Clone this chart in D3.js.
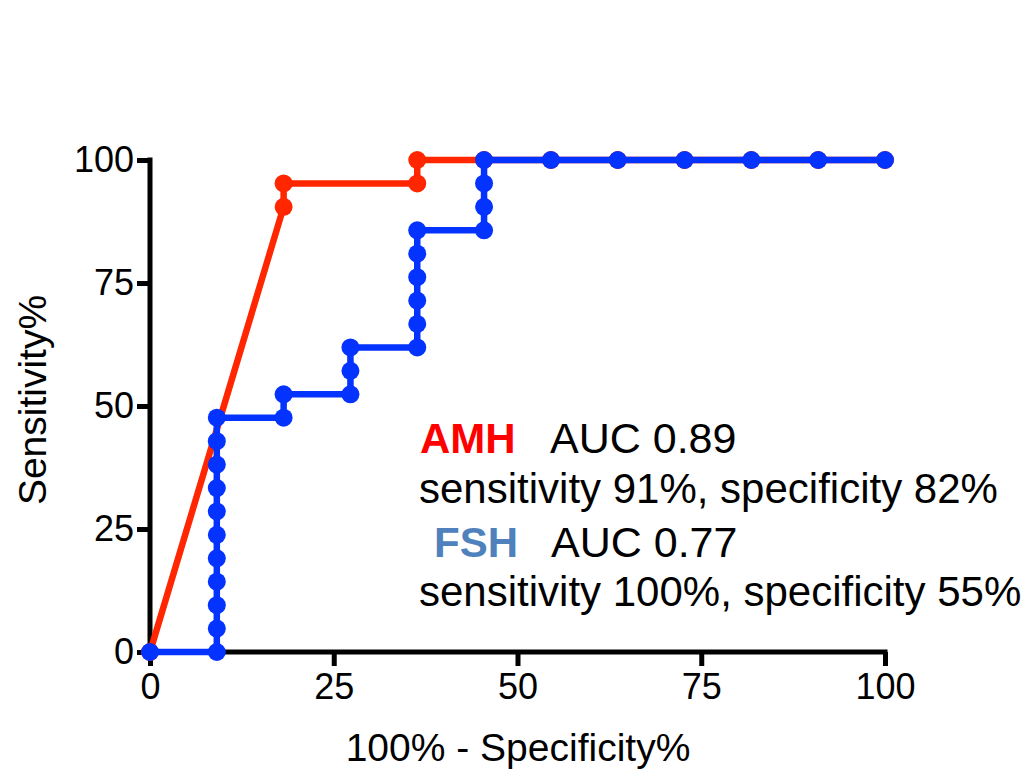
<!DOCTYPE html>
<html>
<head>
<meta charset="utf-8">
<script src="https://cdn.jsdelivr.net/npm/d3@7"></script>
<style>
  html, body { margin: 0; padding: 0; background: #fff; }
  text { font-family: "Liberation Sans", Arial, sans-serif; }
</style>
</head>
<body>
<svg id="chart" width="1032" height="772"></svg>
<script>
// ---- data ----
const amhX = [0, 18.18, 18.18, 36.36, 36.36, 45.45, 54.55, 63.64, 72.73, 81.82, 90.91, 100];
const amhY = [0, 90.48, 95.24, 95.24, 100, 100, 100, 100, 100, 100, 100, 100];

const fshX = [0, 9.09, 9.09, 9.09, 9.09, 9.09, 9.09, 9.09, 9.09, 9.09, 9.09, 9.09,
              18.18, 18.18, 27.27, 27.27, 27.27,
              36.36, 36.36, 36.36, 36.36, 36.36, 36.36,
              45.45, 45.45, 45.45, 45.45,
              54.55, 63.64, 72.73, 81.82, 90.91, 100];
const fshY = [0, 0, 4.76, 9.52, 14.29, 19.05, 23.81, 28.57, 33.33, 38.10, 42.86, 47.62,
              47.62, 52.38, 52.38, 57.14, 61.90,
              61.90, 66.67, 71.43, 76.19, 80.95, 85.71,
              85.71, 90.48, 95.24, 100,
              100, 100, 100, 100, 100, 100];

const xTicks = [0, 25, 50, 75, 100];
const yTicks = [0, 25, 50, 75, 100];

const xTitle = "100% - Specificity%";
const yTitle = "Sensitivity%";

const legendLines = [
  { name: "AMH", auc: "AUC 0.89", detail: "sensitivity 91%, specificity 82%" },
  { name: "FSH", auc: "AUC 0.77", detail: "sensitivity 100%, specificity 55%" }
];

// ---- drawing ----
const svg = d3.select("#chart");
const x = d3.scaleLinear().domain([0, 100]).range([150, 885]);
const y = d3.scaleLinear().domain([0, 100]).range([652, 160]);

const axisW = 5;

// X axis
const xAxis = svg.append("g").attr("transform", `translate(0,${y(0)})`)
  .call(d3.axisBottom(x).tickValues(xTicks).tickSize(14).tickPadding(7).tickFormat(d3.format("d")));
xAxis.select(".domain").attr("stroke", "#000").attr("stroke-width", axisW)
  .attr("d", `M${x(0) - 2.5},0H${x(100) + 2.5}`);
xAxis.selectAll(".tick line").attr("stroke", "#000").attr("stroke-width", axisW);
xAxis.selectAll(".tick text").attr("font-size", 36).attr("fill", "#000")
  .attr("font-family", "Liberation Sans, Arial, sans-serif");

// Y axis
const yAxis = svg.append("g").attr("transform", `translate(${x(0)},0)`)
  .call(d3.axisLeft(y).tickValues(yTicks).tickSize(13).tickPadding(3).tickFormat(d3.format("d")));
yAxis.select(".domain").attr("stroke", "#000").attr("stroke-width", axisW)
  .attr("d", `M0,${y(100) - 2.5}V${y(0) + 6}`);
yAxis.selectAll(".tick line").attr("stroke", "#000").attr("stroke-width", axisW);
yAxis.selectAll(".tick text").attr("font-size", 36).attr("fill", "#000")
  .attr("font-family", "Liberation Sans, Arial, sans-serif");

// Axis titles
svg.append("text").attr("x", 518).attr("y", 761).attr("text-anchor", "middle")
  .attr("font-size", 39).attr("fill", "#000").text(xTitle);
svg.append("text").attr("transform", "translate(46,400) rotate(-90)").attr("text-anchor", "middle")
  .attr("font-size", 39).attr("fill", "#000").text(yTitle);

// Series
function drawSeries(xs, ys, color) {
  const pts = xs.map((d, i) => [d, ys[i]]);
  const line = d3.line().x(d => x(d[0])).y(d => y(d[1]));
  const g = svg.append("g");
  g.append("path").attr("d", line(pts)).attr("fill", "none")
    .attr("stroke", color).attr("stroke-width", 6.5).attr("stroke-linejoin", "round");
  g.selectAll("circle").data(pts).enter().append("circle")
    .attr("cx", d => x(d[0])).attr("cy", d => y(d[1])).attr("r", 9).attr("fill", color);
}
drawSeries(amhX, amhY, "#ff2600");
drawSeries(fshX, fshY, "#0433ff");

// Legend / annotation text
const leg = svg.append("g");
const nameColors = ["#ff0000", "#4f81bd"];
const nameX = [420, 434];
const aucX = [550, 551];
const rowY = [453, 503, 557, 606];
legendLines.forEach((l, i) => {
  leg.append("text").attr("x", nameX[i]).attr("y", rowY[i * 2]).attr("font-size", 42)
    .attr("font-weight", "bold").attr("fill", nameColors[i]).text(l.name);
  leg.append("text").attr("x", aucX[i]).attr("y", rowY[i * 2]).attr("font-size", 43)
    .attr("fill", "#000").text(l.auc);
  leg.append("text").attr("x", 419).attr("y", rowY[i * 2 + 1]).attr("font-size", 42)
    .attr("fill", "#000").text(l.detail);
});
</script>
</body>
</html>
